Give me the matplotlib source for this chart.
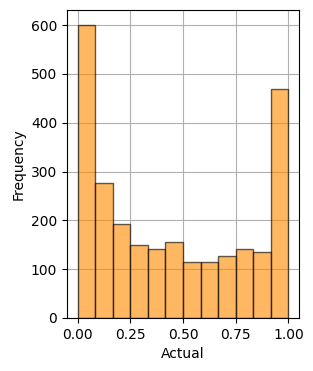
import numpy as np
import matplotlib
matplotlib.use('Agg')
import matplotlib.pyplot as plt

edges = np.linspace(0, 1, 13)
counts = [601, 277, 192, 149, 141, 155, 114, 114, 126, 141, 135, 469]
centers = (edges[:-1] + edges[1:]) / 2

fig = plt.figure(figsize=(3.13, 3.71), dpi=100)
ax = fig.add_axes([0.214, 0.143, 0.741, 0.830])
ax.hist(centers, bins=edges, weights=counts, color='#ff8c00', alpha=0.62,
        edgecolor='black', zorder=2)
ax.grid(True, zorder=0)
ax.set_axisbelow(True)
ax.set_xticks([0, 0.25, 0.5, 0.75, 1.0])
ax.set_xlabel('Actual')
ax.set_ylabel('Frequency')
fig.savefig('out.png', dpi=100)
